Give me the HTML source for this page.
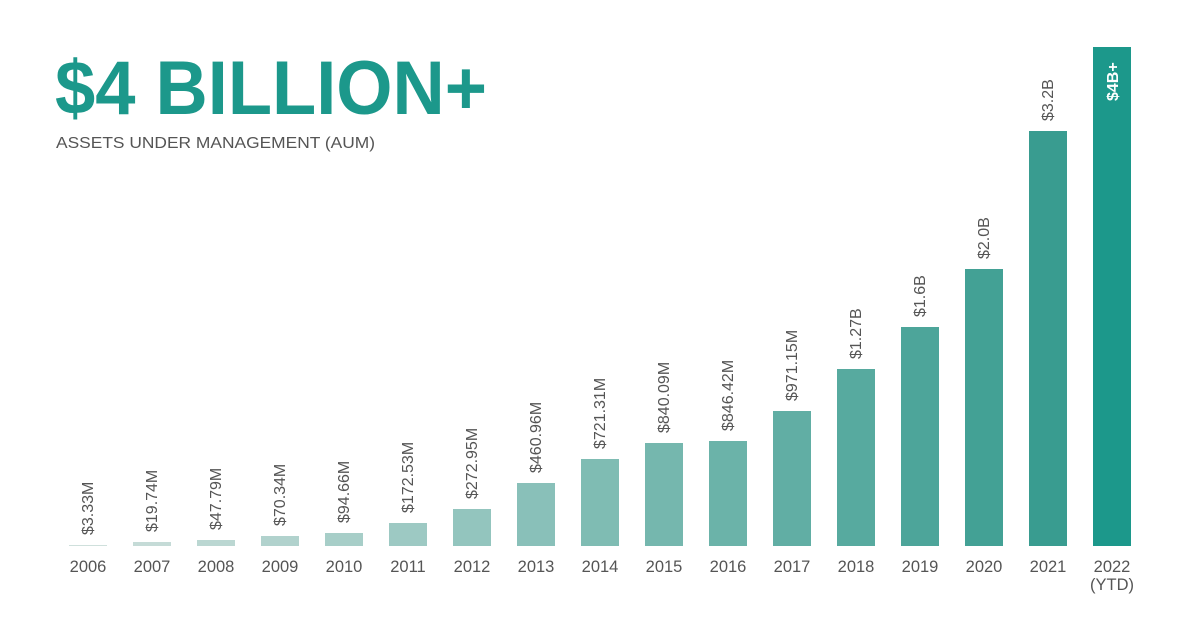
<!DOCTYPE html>
<html><head><meta charset="utf-8"><style>
html,body{margin:0;padding:0;background:#fff;}
svg{display:block;}
</style></head><body>
<svg width="1200" height="638" xmlns="http://www.w3.org/2000/svg" font-family="Liberation Sans, sans-serif">
<text x="55" y="114" font-size="76" font-weight="bold" fill="#1c988b" textLength="432" lengthAdjust="spacingAndGlyphs">$4 BILLION+</text>
<text x="56" y="148" font-size="16" fill="#555" textLength="319" lengthAdjust="spacingAndGlyphs">ASSETS UNDER MANAGEMENT (AUM)</text>
<g>
<rect x="69" y="545" width="38" height="1" fill="rgb(207,224,220)"/>
<rect x="133" y="542" width="38" height="4" fill="rgb(197,219,215)"/>
<rect x="197" y="540" width="38" height="6" fill="rgb(187,215,210)"/>
<rect x="261" y="536" width="38" height="10" fill="rgb(177,210,205)"/>
<rect x="325" y="533" width="38" height="13" fill="rgb(167,206,200)"/>
<rect x="389" y="523" width="38" height="23" fill="rgb(157,201,195)"/>
<rect x="453" y="509" width="38" height="37" fill="rgb(147,197,190)"/>
<rect x="517" y="483" width="38" height="63" fill="rgb(137,192,185)"/>
<rect x="581" y="459" width="38" height="87" fill="rgb(127,188,179)"/>
<rect x="645" y="443" width="38" height="103" fill="rgb(117,183,174)"/>
<rect x="709" y="441" width="38" height="105" fill="rgb(107,179,169)"/>
<rect x="773" y="411" width="38" height="135" fill="rgb(97,174,164)"/>
<rect x="837" y="369" width="38" height="177" fill="rgb(87,170,159)"/>
<rect x="901" y="327" width="38" height="219" fill="rgb(77,165,154)"/>
<rect x="965" y="269" width="38" height="277" fill="rgb(67,161,149)"/>
<rect x="1029" y="131" width="38" height="415" fill="rgb(57,156,144)"/>
<rect x="1093" y="47" width="38" height="499" fill="#1c988b"/>
</g>
<g font-size="16" fill="#555">
<text transform="translate(93,535) rotate(-90)">$3.33M</text>
<text transform="translate(157,532) rotate(-90)">$19.74M</text>
<text transform="translate(221,530) rotate(-90)">$47.79M</text>
<text transform="translate(285,526) rotate(-90)">$70.34M</text>
<text transform="translate(349,523) rotate(-90)">$94.66M</text>
<text transform="translate(413,513) rotate(-90)">$172.53M</text>
<text transform="translate(477,499) rotate(-90)">$272.95M</text>
<text transform="translate(541,473) rotate(-90)">$460.96M</text>
<text transform="translate(605,449) rotate(-90)">$721.31M</text>
<text transform="translate(669,433) rotate(-90)">$840.09M</text>
<text transform="translate(733,431) rotate(-90)">$846.42M</text>
<text transform="translate(797,401) rotate(-90)">$971.15M</text>
<text transform="translate(861,359) rotate(-90)">$1.27B</text>
<text transform="translate(925,317) rotate(-90)">$1.6B</text>
<text transform="translate(989,259) rotate(-90)">$2.0B</text>
<text transform="translate(1053,121) rotate(-90)">$3.2B</text>
</g>
<text transform="translate(1118,101) rotate(-90)" font-size="16" font-weight="bold" fill="#fff">$4B+</text>
<g font-size="16.5" fill="#555" text-anchor="middle">
<text x="88" y="572">2006</text>
<text x="152" y="572">2007</text>
<text x="216" y="572">2008</text>
<text x="280" y="572">2009</text>
<text x="344" y="572">2010</text>
<text x="408" y="572">2011</text>
<text x="472" y="572">2012</text>
<text x="536" y="572">2013</text>
<text x="600" y="572">2014</text>
<text x="664" y="572">2015</text>
<text x="728" y="572">2016</text>
<text x="792" y="572">2017</text>
<text x="856" y="572">2018</text>
<text x="920" y="572">2019</text>
<text x="984" y="572">2020</text>
<text x="1048" y="572">2021</text>
<text x="1112" y="572">2022</text>
<text x="1112" y="590">(YTD)</text>
</g>
</svg>
</body></html>
